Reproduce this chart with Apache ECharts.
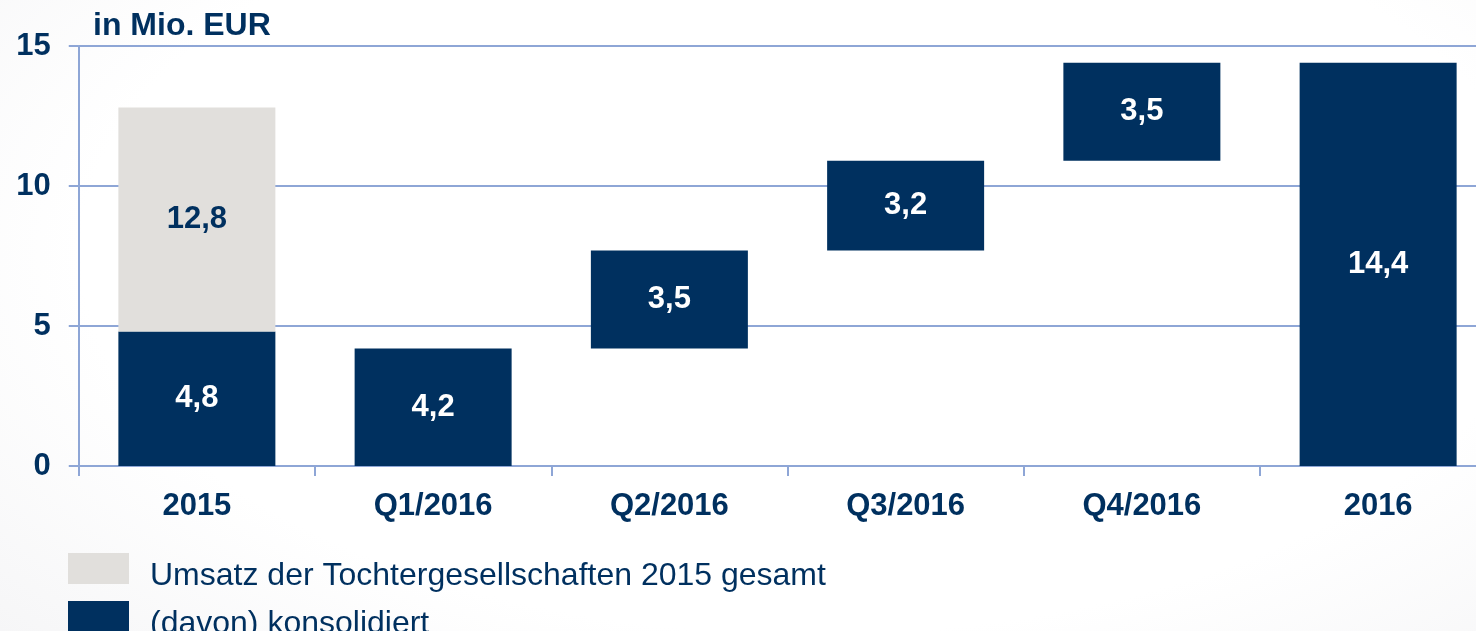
<!DOCTYPE html>
<html><head><meta charset="utf-8">
<script src="https://cdn.jsdelivr.net/npm/echarts@6/dist/echarts.min.js"></script>
<style>
html,body{margin:0;padding:0;overflow:hidden;}
body{width:1476px;height:631px;background:radial-gradient(ellipse 90% 110% at 55% 40%, #ffffff 55%, #f0f0f2 100%);}
#c{width:1497px;height:631px;}
</style></head>
<body><div id="c"></div>
<script>
const categories = ['2015','Q1/2016','Q2/2016','Q3/2016','Q4/2016','2016'];
const baseValues = [0, 0, 4.2, 7.7, 10.9, 0];
const consolidated = [4.8, 4.2, 3.5, 3.2, 3.5, 14.4];
const total2015 = [12.8, null, null, null, null, null];
const yTicks = [0, 5, 10, 15];
const legendNames = ['Umsatz der Tochtergesellschaften 2015 gesamt', '(davon) konsolidiert'];

const navy = '#00305f';
const grey = '#e1dfdc';
const lineCol = '#8ea6d6';
const fontFam = '"Liberation Sans", Arial, sans-serif';

const greyRest = total2015.map((t, i) => t == null ? null : +(t - consolidated[i]).toFixed(2));

const legendCommon = {
  orient: 'vertical', left: 68, padding: 0,
  itemWidth: 61, itemHeight: 31, itemGap: 18,
  icon: 'rect', selectedMode: false,
  formatter: n => '{a|' + n + '}',
  textStyle: {
    fontFamily: fontFam, fontSize: 32, color: navy,
    rich: {a: {fontFamily: fontFam, fontSize: 32, color: navy, padding: [16, 0, 0, 16]}}
  }
};

const chart = echarts.init(document.getElementById('c'), null, {renderer: 'canvas'});
chart.setOption({
  animation: false,
  textStyle: {fontFamily: fontFam},
  title: {
    text: 'in Mio. EUR', left: 88, top: 5,
    textStyle: {fontFamily: fontFam, fontSize: 32, fontWeight: 'bold', color: navy}
  },
  grid: {left: 78.75, top: 46, width: 1417.5, height: 420, containLabel: false},
  legend: [
    Object.assign({}, legendCommon, {top: 553, data: [legendNames[0]]}),
    Object.assign({}, legendCommon, {top: 601, data: [legendNames[1]]})
  ],
  xAxis: {
    type: 'category', data: categories,
    axisLine: {lineStyle: {color: lineCol, width: 2}},
    axisTick: {show: true, length: 10, lineStyle: {color: lineCol, width: 2}, alignWithLabel: false},
    axisLabel: {margin: 25, fontFamily: fontFam, fontSize: 31, fontWeight: 'bold', color: navy}
  },
  yAxis: {
    type: 'value', min: yTicks[0], max: yTicks[yTicks.length - 1], interval: 5,
    axisLine: {show: true, lineStyle: {color: lineCol, width: 2}},
    axisTick: {show: true, length: 10, lineStyle: {color: lineCol, width: 2}},
    splitLine: {show: true, lineStyle: {color: lineCol, width: 2}},
    axisLabel: {margin: 28, fontFamily: fontFam, fontSize: 31, fontWeight: 'bold', color: navy}
  },
  series: [
    {
      name: 'base', type: 'bar', stack: 'w', data: baseValues, barWidth: 157,
      itemStyle: {color: 'transparent'}, silent: true, label: {show: false}
    },
    {
      name: legendNames[1], type: 'bar', stack: 'w', data: consolidated, barWidth: 157,
      itemStyle: {color: navy},
      label: {
        show: true, position: 'inside', color: '#ffffff',
        fontFamily: fontFam, fontSize: 31, fontWeight: 'bold',
        formatter: p => String(p.value).replace('.', ',')
      }
    },
    {
      name: legendNames[0], type: 'bar', stack: 'w', data: greyRest, barWidth: 157,
      itemStyle: {color: grey},
      label: {
        show: true, position: 'inside', color: navy,
        fontFamily: fontFam, fontSize: 31, fontWeight: 'bold',
        formatter: p => total2015[p.dataIndex] == null ? '' : String(total2015[p.dataIndex]).replace('.', ',')
      }
    }
  ]
});
</script>
</body></html>
